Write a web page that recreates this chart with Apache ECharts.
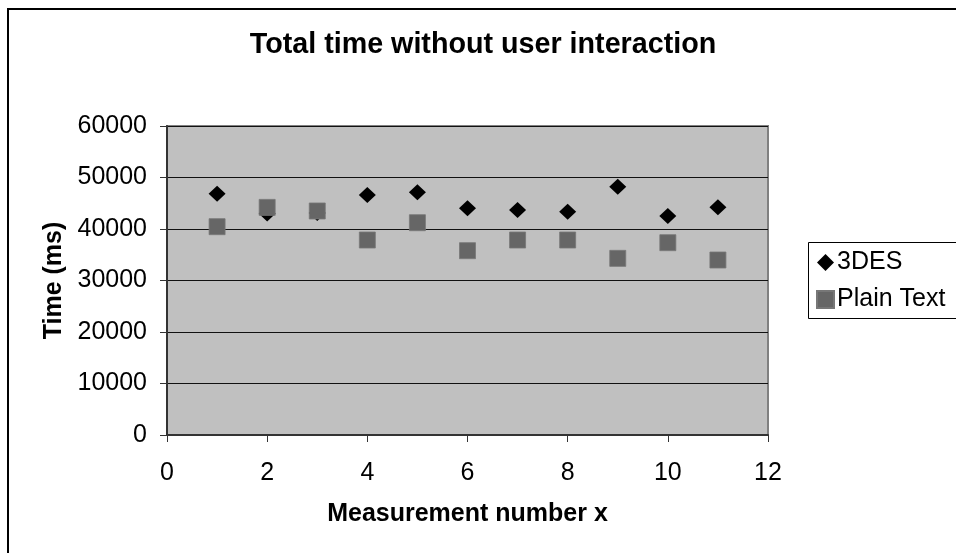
<!DOCTYPE html>
<html>
<head>
<meta charset="utf-8">
<script src="https://cdn.jsdelivr.net/npm/echarts@6/dist/echarts.min.js"></script>
<style>
html,body{margin:0;padding:0;background:#fff;}
#chart{width:956px;height:553px;}
</style>
</head>
<body>
<div id="chart"></div>
<script>
var measurements = [1, 2, 3, 4, 5, 6, 7, 8, 9, 10, 11];
var des3 = [46850, 43000, 43100, 46600, 47130, 44020, 43690, 43370, 48220, 42520, 44200];
var plainText = [40450, 44200, 43500, 37860, 41220, 35790, 37860, 37860, 34300, 37340, 33980];
var seriesNames = ['3DES', 'Plain Text'];

function pairs(xs, ys) { return xs.map(function (x, i) { return [x, ys[i]]; }); }

var FONT = 'Liberation Sans, Arial, sans-serif';
var chart = echarts.init(document.getElementById('chart'), null, { renderer: 'canvas' });
chart.setOption({
  animation: false,
  backgroundColor: '#ffffff',
  graphic: [{
    type: 'rect', silent: true, z: 100,
    shape: { x: 8, y: 9, width: 2000, height: 2000 },
    style: { fill: 'none', stroke: '#000', lineWidth: 2 }
  }, {
    type: 'rect', silent: true, z: 100,
    shape: { x: 808.5, y: 242.5, width: 300, height: 76 },
    style: { fill: 'none', stroke: '#000', lineWidth: 1 }
  }],
  title: {
    text: 'Total time without user interaction',
    left: 483, top: 31, textAlign: 'center', padding: 0,
    textStyle: { fontFamily: FONT, fontSize: 28.7, fontWeight: 'bold', color: '#000' }
  },
  grid: {
    left: 167, top: 126, right: 188, bottom: 118,
    show: true, backgroundColor: '#c0c0c0', borderColor: '#808080', borderWidth: 2
  },
  legend: {
    orient: 'vertical', left: 808, top: 242,
    padding: [8, 4, 6, 8], itemGap: 12,
    borderWidth: 0,
    itemWidth: 17, itemHeight: 17,
    textStyle: { fontFamily: FONT, fontSize: 25, color: '#000', padding: [0, 0, 0, -2] },
    data: [
      { name: seriesNames[0], icon: 'diamond' },
      { name: seriesNames[1], icon: 'rect' }
    ]
  },
  xAxis: {
    type: 'value', min: 0, max: 12, interval: 2,
    name: 'Measurement number x', nameLocation: 'middle', nameGap: 67,
    nameTextStyle: { fontFamily: FONT, fontSize: 25, fontWeight: 'bold', color: '#000' },
    axisLine: { show: true, onZero: false, lineStyle: { color: '#333', width: 2 } },
    axisTick: { show: true, length: 7, lineStyle: { color: '#333', width: 1 } },
    axisLabel: { margin: 26, fontFamily: FONT, fontSize: 25, color: '#000',
      formatter: function (v) { return String(v); } },
    splitLine: { show: false }
  },
  yAxis: {
    type: 'value', min: 0, max: 60000, interval: 10000,
    name: 'Time (ms)', nameLocation: 'middle', nameGap: 95, nameRotate: 90,
    nameTextStyle: { fontFamily: FONT, fontSize: 25, fontWeight: 'bold', color: '#000' },
    axisLine: { show: true, lineStyle: { color: '#333', width: 2 } },
    axisTick: { show: true, length: 7, lineStyle: { color: '#333', width: 1 } },
    axisLabel: { margin: 20, fontFamily: FONT, fontSize: 25, color: '#000',
      formatter: function (v) { return String(v); } },
    splitLine: { show: true, lineStyle: { color: '#111', width: 1.2 } }
  },
  series: [
    {
      name: seriesNames[0], type: 'scatter', symbol: 'diamond', symbolSize: [17, 16],
      itemStyle: { color: '#000', opacity: 1 },
      data: pairs(measurements, des3)
    },
    {
      name: seriesNames[1], type: 'scatter', symbol: 'rect', symbolSize: [16, 16],
      itemStyle: { color: '#666666', borderColor: '#777', borderWidth: 0.8, opacity: 1 },
      data: pairs(measurements, plainText)
    }
  ]
});
</script>
</body>
</html>
